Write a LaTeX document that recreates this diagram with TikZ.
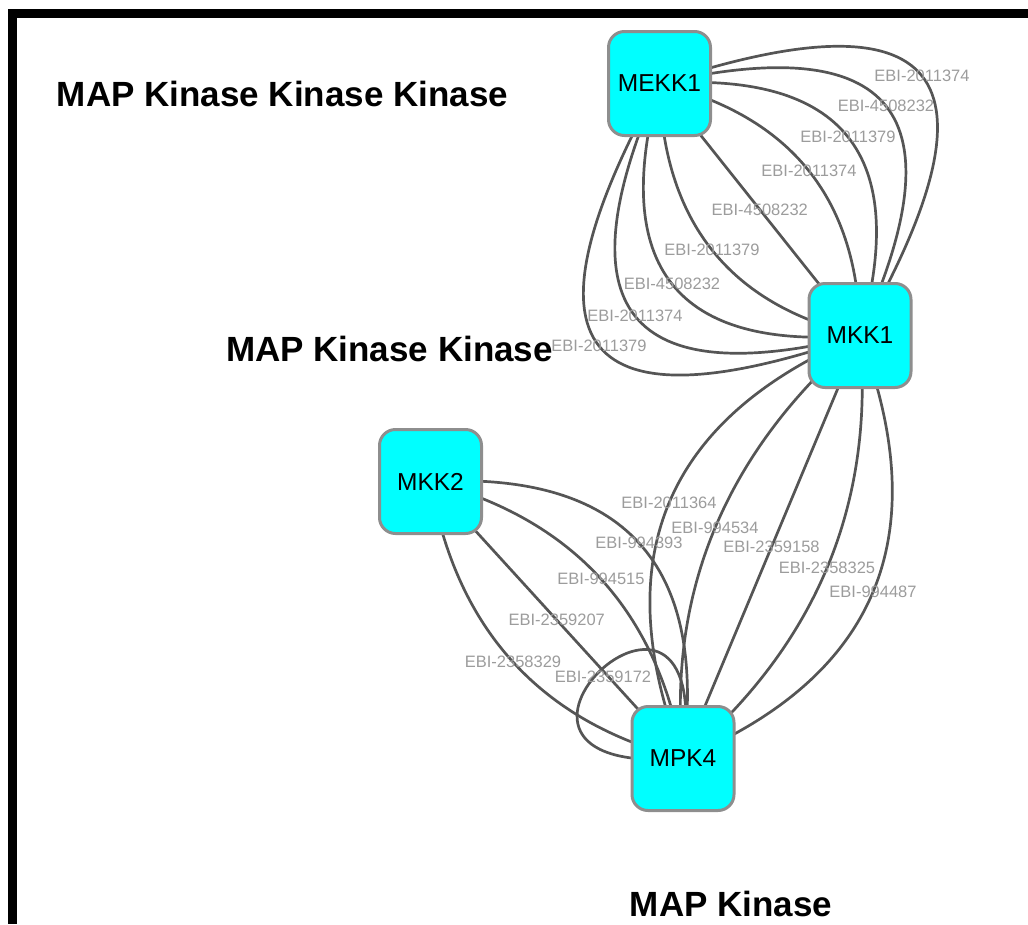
\documentclass[tikz,border=0pt]{standalone}
\usepackage{fontspec}
\setmainfont{Liberation Sans}
\usetikzlibrary{calc}
\pgfdeclarelayer{bg}
\pgfsetlayers{bg,main}
\definecolor{nodefill}{HTML}{00FFFF}
\definecolor{nodeborder}{HTML}{8E8E8E}
\definecolor{edgecol}{HTML}{555555}
\definecolor{labcol}{HTML}{9C9C9C}
\tikzset{
  protein/.style={draw=nodeborder, fill=nodefill, line width=3pt, rounded corners=16pt,
    minimum width=102pt, minimum height=104pt, inner sep=0pt,
    font=\fontsize{24.5}{26}\selectfont, text=black},
  elabel/.style={inner sep=0pt, text=labcol, font=\fontsize{16.5}{18}\selectfont},
  title/.style={inner sep=0pt, text=black, font=\fontsize{35}{38}\selectfont\bfseries},
  edgeline/.style={draw=edgecol, line width=2.7pt},
  framebar/.style={fill=black}
}
\newcommand\qedge[3]{\draw[edgeline] (#1.center) .. controls ($(#2)!4/3!(#3)$) and ($(#1)!4/3!(#3)$) .. (#2.center);}
\begin{document}
\begin{tikzpicture}[x=1pt, y=-1pt]
\useasboundingbox (0,0) rectangle (1028,924);
% frame
\fill[framebar] (8,9) rectangle (1028,18);
\fill[framebar] (8,9) rectangle (17,924);
% titles
\node[title] (t1) at (282.5,94) {MAP Kinase Kinase Kinase};
\node[title] (t2) at (389.5,349) {MAP Kinase Kinase};
\node[title] (t3) at (731,904) {MAP Kinase};
% proteins
\node[protein] (mekk) at (659.5,83.5) {MEKK1};
\node[protein] (mkk1) at (860,335.5) {MKK1};
\node[protein] (mkk2) at (430.5,481.5) {MKK2};
\node[protein] (mpk) at (683,758.5) {MPK4};
% edge labels
\node[elabel] (a1) at (922,76) {EBI-2011374};
\node[elabel] (a2) at (886,106) {EBI-4508232};
\node[elabel] (a3) at (848,137) {EBI-2011379};
\node[elabel] (a4) at (809,171) {EBI-2011374};
\node[elabel] (a5) at (759.75,209.5) {EBI-4508232};
\node[elabel] (a6) at (712,250) {EBI-2011379};
\node[elabel] (a7) at (672,284) {EBI-4508232};
\node[elabel] (a8) at (635,316) {EBI-2011374};
\node[elabel] (a9) at (599,346) {EBI-2011379};
\node[elabel] (b1) at (669,503) {EBI-2011364};
\node[elabel] (b2) at (715,528) {EBI-994534};
\node[elabel] (b3) at (771.5,547) {EBI-2359158};
\node[elabel] (b4) at (827,568) {EBI-2358325};
\node[elabel] (b5) at (873,592) {EBI-994487};
\node[elabel] (c1) at (639,543) {EBI-994393};
\node[elabel] (c2) at (601,579) {EBI-994515};
\node[elabel] (c3) at (556.75,620) {EBI-2359207};
\node[elabel] (c4) at (513,662) {EBI-2358329};
\node[elabel] (d1) at (603,677) {EBI-2359172};
% edges
\begin{pgfonlayer}{bg}
\qedge{mekk}{mkk1}{a1}
\qedge{mekk}{mkk1}{a2}
\qedge{mekk}{mkk1}{a3}
\qedge{mekk}{mkk1}{a4}
\qedge{mekk}{mkk1}{a5}
\qedge{mekk}{mkk1}{a6}
\qedge{mekk}{mkk1}{a7}
\qedge{mekk}{mkk1}{a8}
\qedge{mekk}{mkk1}{a9}
\qedge{mkk1}{mpk}{b1}
\qedge{mkk1}{mpk}{b2}
\qedge{mkk1}{mpk}{b3}
\qedge{mkk1}{mpk}{b4}
\qedge{mkk1}{mpk}{b5}
\qedge{mkk2}{mpk}{c1}
\qedge{mkk2}{mpk}{c2}
\qedge{mkk2}{mpk}{c3}
\qedge{mkk2}{mpk}{c4}
\draw[edgeline] (mpk.center) .. controls +(-255,20) and +(35,-255) .. (mpk.center);
\end{pgfonlayer}
\end{tikzpicture}
\end{document}
